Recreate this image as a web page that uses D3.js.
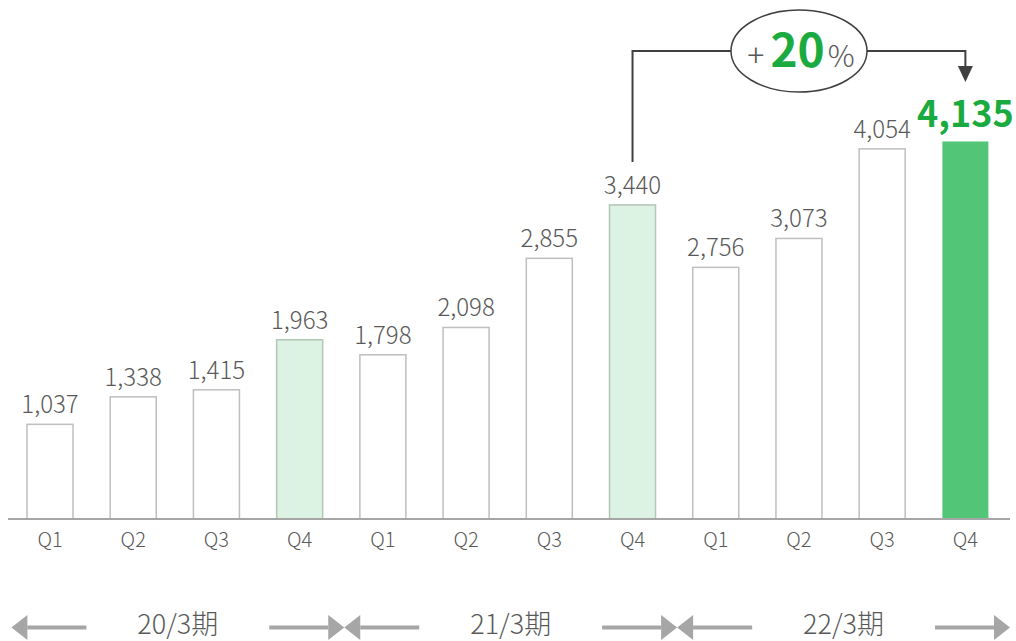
<!DOCTYPE html>
<html lang="ja">
<head>
<meta charset="UTF-8">
<title>Quarterly</title>
<script src="https://d3js.org/d3.v7.min.js"></script>
<style>
  body { margin: 0; background: #fff; }
  text { font-family: "Noto Sans CJK JP", "Noto Sans", sans-serif; }
</style>
</head>
<body>
<div id="chart"></div>
<script>
// data
const quarters = ["Q1","Q2","Q3","Q4","Q1","Q2","Q3","Q4","Q1","Q2","Q3","Q4"];
const values = [1037, 1338, 1415, 1963, 1798, 2098, 2855, 3440, 2756, 3073, 4054, 4135];
const periods = ["20/3期", "21/3期", "22/3期"];
const growthLabel = "20";

const W = 1016, H = 641;
const baseY = 519;

const svg = d3.select("#chart").append("svg")
    .attr("width", W).attr("height", H);

const keys = d3.range(values.length);
const x = d3.scaleBand()
    .domain(keys)
    .range([8.4, 1007])
    .paddingInner(0.447)
    .paddingOuter(0.2235);

const y = d3.scaleLinear()
    .domain([0, 4500])
    .range([baseY, baseY - 4500 * 0.0913]);

function barFill(i) {
    if (i === values.length - 1) return "#52c576";
    if (quarters[i] === "Q4") return "#dcf2e3";
    return "#ffffff";
}
function barStroke(i) {
    if (i === values.length - 1) return "none";
    if (quarters[i] === "Q4") return "#b3c6b8";
    return "#bfbfbf";
}

// bars
svg.selectAll(".bar")
    .data(values)
    .enter().append("rect")
    .attr("class", "bar")
    .attr("x", (d, i) => x(i))
    .attr("y", d => y(d))
    .attr("width", x.bandwidth())
    .attr("height", d => baseY - y(d))
    .attr("fill", (d, i) => barFill(i))
    .attr("stroke", (d, i) => barStroke(i))
    .attr("stroke-width", 1.5);

// baseline axis
const axis = svg.append("g")
    .attr("transform", "translate(0," + baseY + ")")
    .call(d3.axisBottom(x).tickSize(0).tickFormat(i => quarters[i]));
axis.select(".domain")
    .attr("d", "M8,0H1010")
    .attr("stroke", "#a6a6a6")
    .attr("stroke-width", 2);
axis.selectAll("text")
    .attr("dy", 0)
    .attr("y", 28)
    .style("font-size", "20px")
    .style("font-weight", 300)
    .style("font-family", "'Noto Sans CJK JP', sans-serif")
    .attr("fill", "#595959");

// value labels
svg.selectAll(".val")
    .data(values)
    .enter().append("text")
    .attr("class", "val")
    .attr("x", (d, i) => x(i) + x.bandwidth() / 2)
    .attr("y", (d, i) => y(d) - (i === values.length - 1 ? 14 : 11))
    .attr("text-anchor", "middle")
    .attr("fill", (d, i) => i === values.length - 1 ? "#1aab40" : "#595959")
    .style("font-size", (d, i) => i === values.length - 1 ? "36px" : "24px")
    .style("font-weight", (d, i) => i === values.length - 1 ? 700 : 300)
    .text(d => d3.format(",")(d));

// period arrows
const step = x.step();
const arrowY = 627.5;
const headL = 16, headW = 12.5;
function arrow(x1, tip) {
    const dir = tip > x1 ? 1 : -1;
    svg.append("line")
        .attr("x1", x1).attr("x2", tip - dir * headL)
        .attr("y1", arrowY).attr("y2", arrowY)
        .attr("stroke", "#a6a6a6").attr("stroke-width", 4);
    svg.append("path")
        .attr("d", "M" + tip + "," + arrowY +
            "L" + (tip - dir * headL) + "," + (arrowY - headW) +
            "L" + (tip - dir * headL) + "," + (arrowY + headW) + "Z")
        .attr("fill", "#a6a6a6");
}
periods.forEach((p, g) => {
    const left = x(g * 4) + x.bandwidth() / 2 - step / 2 + 3;
    const right = left + step * 4;
    const mid = (left + right) / 2;
    arrow(left + 75, left);
    arrow(right - 75, right);
    svg.append("text")
        .attr("x", mid)
        .attr("y", 634)
        .attr("text-anchor", "middle")
        .attr("fill", "#595959")
        .style("font-size", "27px")
        .style("font-weight", 300)
        .text(p);
});

// growth annotation
const fromI = 7, toI = 11;
const fx = x(fromI) + x.bandwidth() / 2;
const tx = x(toI) + x.bandwidth() / 2;
const topY = 51;
const ex = 799, erx = 68, ery = 41;
svg.append("path")
    .attr("d", "M" + fx + "," + (y(values[fromI]) - 43) + "V" + topY + "H" + (ex - erx))
    .attr("fill", "none").attr("stroke", "#404040").attr("stroke-width", 2);
svg.append("path")
    .attr("d", "M" + (ex + erx) + "," + topY + "H" + tx + "V" + 68)
    .attr("fill", "none").attr("stroke", "#404040").attr("stroke-width", 2);
svg.append("path")
    .attr("d", "M" + (tx - 7.5) + "," + 66 + "L" + (tx + 7.5) + "," + 66 + "L" + tx + "," + 82 + "Z")
    .attr("fill", "#404040");
svg.append("ellipse")
    .attr("cx", ex).attr("cy", topY)
    .attr("rx", erx).attr("ry", ery)
    .attr("fill", "#fff").attr("stroke", "#404040").attr("stroke-width", 1.5);
const ann = svg.append("text")
    .attr("x", ex + 2).attr("y", 67)
    .attr("text-anchor", "middle");
ann.append("tspan").attr("fill", "#595959").style("font-size", "32px").style("font-weight", 200).text("+");
ann.append("tspan").attr("fill", "#1aab40").attr("dx", 6).style("font-size", "46px").style("font-weight", 700).text(growthLabel);
ann.append("tspan").attr("fill", "#595959").attr("dx", 3).style("font-size", "30px").style("font-weight", 300).text("%");
</script>
</body>
</html>
